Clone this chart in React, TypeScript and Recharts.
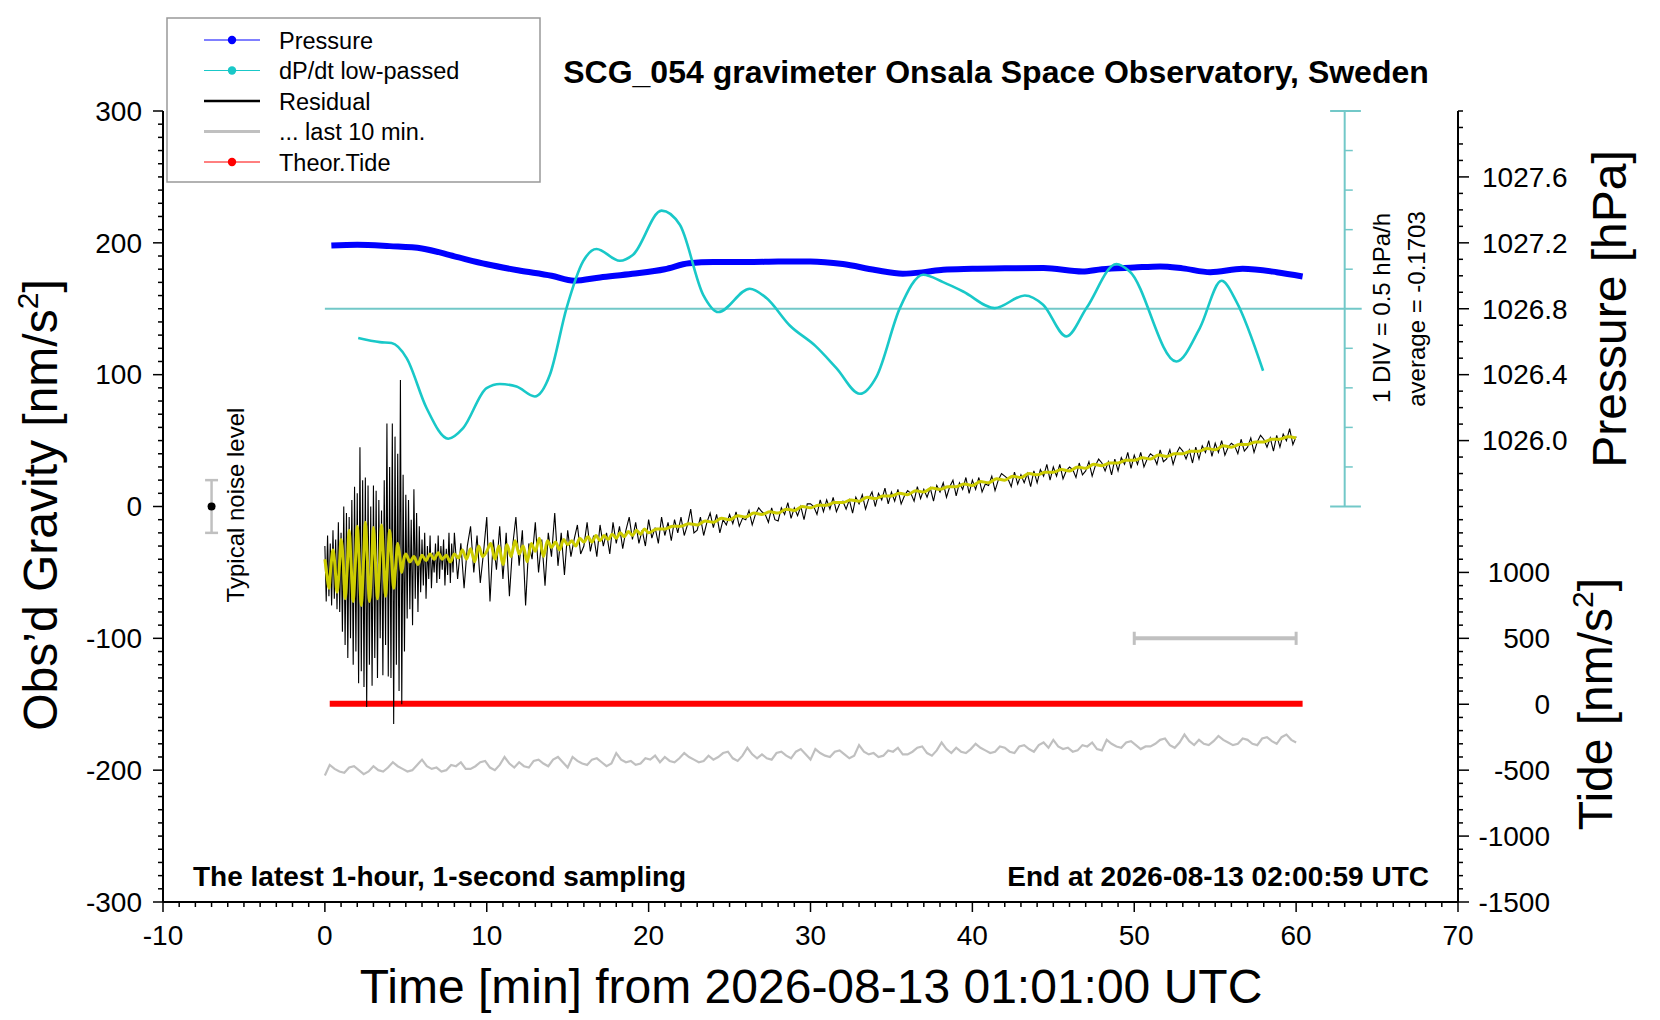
import React from 'react';
import {
  ComposedChart,
  Line,
  XAxis,
  YAxis,
  ReferenceLine,
  ReferenceDot,
} from 'recharts';

const FONT = "'Liberation Sans', Arial, Helvetica, sans-serif";

// ---- axis domains (all share the same vertical extent) ----
const G_DOMAIN = [-300, 300];
const P_DOMAIN = [1023.2, 1028.0];
const TIDE_DOMAIN = [-1500, 4500];
const DPDT_AVERAGE = -0.1703;
const DPDT_DOMAIN = [DPDT_AVERAGE - 7.5, DPDT_AVERAGE + 2.5];

// ---- axis ticks / labels ----
const TIME_TICKS = Array.from({ length: 81 }, (_, i) => i - 10);
const TIME_LABELS = [-10, 0, 10, 20, 30, 40, 50, 60, 70];
const GRAVITY_TICKS = Array.from({ length: 61 }, (_, i) => -300 + i * 10);
const GRAVITY_LABELS = [-300, -200, -100, 0, 100, 200, 300];
const PRESSURE_TICKS = Array.from({ length: 24 }, (_, i) => (10257 + i) / 10);
const PRESSURE_LABELS = [1026.0, 1026.4, 1026.8, 1027.2, 1027.6];
const TIDE_TICKS = Array.from({ length: 31 }, (_, i) => -1500 + i * 100);
const TIDE_LABELS = [-1500, -1000, -500, 0, 500, 1000];

// ---- pressure [hPa] ----
const PRESSURE_TIMES = [0.4, 2, 4, 6, 8, 10, 12, 14, 15.4, 17, 19, 21, 22.5, 24, 26, 28, 30, 32, 34, 35.7, 37, 38.2, 40, 42, 44.4, 46.8, 48, 50, 51.6, 53, 54.7, 56.7, 58.8, 60.4];
const PRESSURE_VALUES = [1027.184, 1027.189, 1027.18, 1027.166, 1027.118, 1027.07, 1027.032, 1027.0, 1026.97, 1026.99, 1027.012, 1027.04, 1027.076, 1027.083, 1027.083, 1027.086, 1027.087, 1027.071, 1027.035, 1027.013, 1027.022, 1027.037, 1027.042, 1027.046, 1027.047, 1027.026, 1027.04, 1027.05, 1027.057, 1027.045, 1027.022, 1027.042, 1027.022, 1026.996];

// ---- dP/dt low-passed [hPa/h] ----
const DPDT_TIMES = [2.06, 3.4, 4.12, 5.05, 6.28, 7.62, 8.54, 9.99, 10.81, 11.84, 12.97, 13.9, 14.93, 15.95, 16.78, 18.22, 19.04, 20.8, 21.93, 23.37, 24.3, 26.25, 27.28, 28.72, 30.3, 31.6, 33.05, 34.08, 35.52, 36.96, 38.19, 39.43, 41.38, 43.24, 44.37, 45.81, 47.05, 48.9, 49.72, 52.6, 54.05, 55.39, 56.31, 57.96];
const DPDT_VALUES = [-0.54, -0.592, -0.604, -0.794, -1.425, -1.813, -1.679, -1.174, -1.122, -1.154, -1.279, -1.005, -0.162, 0.428, 0.585, 0.436, 0.513, 1.07, 0.891, 0.006, -0.212, 0.083, -0.035, -0.382, -0.64, -0.92, -1.245, -1.027, -0.162, 0.26, 0.166, 0.048, -0.162, -0.002, -0.12, -0.52, -0.162, 0.395, 0.301, -0.837, -0.414, 0.183, -0.079, -0.954];

// ---- theoretical tide [nm/s2] ----
const TIDE_TIMES = [0.3, 5, 10, 15, 20, 25, 30, 35, 40, 45, 50, 55, 60.4];
const TIDE_VALUES = [3, 3, 3, 3, 3, 3, 3, 3, 3, 3, 3, 3, 3];

// ---- residual [nm/s2], 0-8 min every 5 s ----
const RESIDUAL_EARLY = [
  -30, -72, -22, -68, -28, -75, -18, -70, -25, -78, -12, -80,
  -20, -95, 0, -105, -5, -115, -8, -100, 5, -120, 15, -110,
  10, -134, 45, -125, 20, -137, 22, -152, 16, -120, 0, -136,
  16, -115, 12, -130, 5, -100, -3, -128, 20, -105, 63, -129,
  30, -130, 63, -165, 53, -120, 40, -140, 96, -150, 24, -110,
  9, -85, 5, -78, -10, -90, 13, -70, -5, -80, -15, -65,
  -25, -60, -20, -70, -30, -55, -22, -62, -35, -50, -28, -58,
  -22, -55, -30, -48, -25, -60, -32, -52, -20, -58, -28, -50,
];
// ---- residual, 8-60 min every 12 s ----
const RESIDUAL_LATE = [
  -20, -55, -28, -62, -30, -15, -50, -22, -58, -35,
  -8, -72, -25, -48, -15, -55, -20, -68, -30, -8,
  -45, -18, -75, -28, -40, -12, -50, -25, -60, -20,
  -38, -5, -45, -20, -52, -18, -38, -25, -14, -36,
  -30, -12, -34, -22, -38, -14, -30, -20, -36, -12,
  -28, -15, -32, -18, -8, -25, -12, -28, -18, -30,
  -10, -24, -16, -28, -8, -22, -12, -26, -10, -20,
  -8, -22, -14, -2, -20, -18, -8, -22, -12, -5,
  -16, -6, -20, -10, -14, -6, -13, -4, -15, -9,
  -10, -3, -14, -6, -1, -4, -6, -12, -1, -10,
  -11, -1, -6, 3, -9, -1, -7, 0, -10, 2,
  2, 0, -6, 5, -4, 5, -2, 7, -4, 2,
  4, -2, 5, -5, 7, 2, 9, -2, 6, 11,
  0, 10, 5, 14, 2, 11, 4, 13, 2, 8,
  12, 10, 4, 15, 6, 13, 7, 14, 4, 16,
  11, 18, 7, 15, 20, 8, 18, 13, 22, 10,
  20, 13, 22, 11, 17, 16, 23, 12, 20, 25,
  23, 21, 15, 26, 17, 24, 18, 25, 15, 27,
  18, 28, 23, 32, 20, 30, 23, 32, 21, 27,
  30, 28, 22, 33, 24, 27, 34, 23, 31, 36,
  33, 27, 34, 24, 36, 27, 37, 32, 41, 29,
  39, 32, 41, 30, 36, 40, 38, 32, 43, 34,
  36, 43, 32, 40, 45, 42, 36, 43, 33, 45,
  36, 46, 41, 50, 38, 48, 41, 50, 39, 45,
  48, 46, 40, 51, 42, 45, 52, 41, 49, 54,
  51, 45, 52, 42, 54, 45, 55, 50, 59, 47,
  53,
];

// ---- smoothed residual (yellow) ----
const SMOOTH_EARLY = [
  -40, -52, -62, -45, -33, -45, -65, -50, -25, -40, -70, -48, -18, -45, -72, -45,
  -15, -42, -75, -45, -12, -40, -72, -48, -16, -42, -70, -44, -14, -40, -68, -42,
  -18, -40, -62, -45, -28, -38, -50, -40, -36,
];
const SMOOTH_MID = [
  -42, -38, -44, -37, -41, -36, -40, -35, -40, -37, -42, -36, -39, -33, -40, -32,
  -42, -30, -38, -34, -28, -40, -30, -44, -29, -38, -26, -36, -30, -42, -28, -34,
  -24, -38, -26, -31, -27, -33, -25, -29, -26, -30, -24, -27, -23, -27, -22, -26,
  -22, -25, -21, -24, -20, -23, -19, -22, -18, -21, -17, -20,
];
const SMOOTH_LATE = [
  -17, -17, -15, -15, -13, -14, -11, -12, -9, -10, -7, -8, -5, -6, -4, -5,
  -2, -3, 0, -1, 1, 1, 3, 3, 5, 4, 7, 6, 8, 8, 10, 9, 12, 11, 14, 13, 15, 15,
  17, 16, 19, 18, 21, 20, 23, 22, 25, 24, 26, 26, 28, 27, 30, 29, 32, 31, 33,
  33, 35, 35, 37, 36, 39, 38, 40, 40, 42, 42, 44, 43, 46, 45, 47, 47, 49, 49,
  51, 51, 53, 52,
];

// ---- last 10 min, stretched over the hour (grey) ----
const LAST10_VALUES = [
  -204, -196, -199, -201, -202, -198, -197, -200, -203, -201,
  -197, -200, -201, -198, -194, -197, -199, -201, -200, -196,
  -192, -197, -199, -198, -201, -200, -196, -197, -194, -199,
  -199, -197, -194, -193, -198, -200, -196, -190, -195, -198,
  -194, -197, -198, -193, -192, -195, -197, -192, -190, -194,
  -198, -190, -193, -195, -196, -192, -191, -194, -197, -195,
  -187, -192, -194, -193, -196, -195, -191, -192, -189, -194,
  -190, -193, -194, -191, -187, -190, -192, -194, -193, -189,
  -192, -190, -187, -186, -191, -193, -189, -183, -188, -191,
  -188, -191, -192, -187, -186, -189, -191, -186, -184, -188,
  -192, -184, -187, -189, -190, -186, -185, -188, -191, -189,
  -181, -186, -188, -187, -190, -189, -185, -186, -183, -188,
  -188, -186, -183, -182, -187, -189, -185, -179, -184, -187,
  -183, -186, -187, -184, -180, -183, -185, -187, -186, -182,
  -183, -186, -187, -182, -181, -184, -186, -181, -179, -183,
  -177, -182, -184, -183, -186, -185, -181, -182, -179, -184,
  -185, -177, -180, -182, -183, -179, -178, -181, -184, -182,
  -182, -180, -177, -176, -181, -183, -179, -173, -178, -181,
  -177, -180, -181, -178, -174, -177, -179, -181, -180, -176,
  -177, -180, -181, -176, -175, -178, -180, -175, -173, -177,
  -179,
];

// ---- build series tables ----
const pressureData = PRESSURE_TIMES.map((t, i) => ({ t, v: PRESSURE_VALUES[i] }));
const dpdtData = DPDT_TIMES.map((t, i) => ({ t, v: DPDT_VALUES[i] }));
const tideData = TIDE_TIMES.map((t, i) => ({ t, v: TIDE_VALUES[i] }));
const residualData = [
  ...RESIDUAL_EARLY.map((v, i) => ({ t: i / 12, v })),
  ...RESIDUAL_LATE.map((v, i) => ({ t: 8 + i * 0.2, v })),
];
const smoothData = [
  ...SMOOTH_EARLY.map((v, i) => ({ t: i * 0.125, v })),
  ...SMOOTH_MID.map((v, i) => ({ t: 5.25 + i * 0.25, v })),
  ...SMOOTH_LATE.map((v, i) => ({ t: 20.5 + i * 0.5, v })),
];
const last10Data = LAST10_VALUES.map((v, i) => ({ t: i * 0.3, v }));

// map a value between two axis domains that share the plot height
const mapDomain = (v: number, from: number[], to: number[]) =>
  to[0] + ((v - from[0]) / (from[1] - from[0])) * (to[1] - to[0]);

// the right-hand frame carries pressure ticks (upper half) and tide ticks (lower half)
const RIGHT_TICKS = [
  ...TIDE_TICKS.map((t) => mapDomain(t, TIDE_DOMAIN, G_DOMAIN)),
  ...PRESSURE_TICKS.map((p) => mapDomain(p, P_DOMAIN, G_DOMAIN)),
];

const LEGEND_ITEMS = [
  { name: 'Pressure', color: '#0000ff', width: 1, dot: true },
  { name: 'dP/dt low-passed', color: '#19c8c8', width: 1, dot: true },
  { name: 'Residual', color: '#000000', width: 2.5, dot: false },
  { name: '... last 10 min.', color: '#c0c0c0', width: 3, dot: false },
  { name: 'Theor.Tide', color: '#ff0000', width: 1, dot: true },
];

const DP_AXIS_X = 63;
const DP_TEAL = '#72c8c8';

const BottomTick = (props: any) => {
  const { x, y, payload } = props;
  const major = TIME_LABELS.includes(payload.value);
  return (
    <g>
      <line x1={x} x2={x} y1={y} y2={y + (major ? 10 : 5)} stroke="#000" strokeWidth={1.5} />
      {major && (
        <text x={x} y={y + 43} textAnchor="middle" fontSize={28} fontFamily={FONT} fill="#000">
          {payload.value}
        </text>
      )}
    </g>
  );
};

const TopTick = (props: any) => {
  const { x, y, payload } = props;
  const major = TIME_LABELS.includes(payload.value);
  return <line x1={x} x2={x} y1={y} y2={y - (major ? 10 : 5)} stroke="#000" strokeWidth={1.5} />;
};

const GravityTick = (props: any) => {
  const { x, y, payload } = props;
  const major = GRAVITY_LABELS.includes(payload.value);
  return (
    <g>
      <line x1={x} x2={x - (major ? 10 : 5)} y1={y} y2={y} stroke="#000" strokeWidth={1.5} />
      {major && (
        <text x={x - 21} y={y} dy="0.35em" textAnchor="end" fontSize={28} fontFamily={FONT} fill="#000">
          {payload.value}
        </text>
      )}
    </g>
  );
};

const RightTick = (props: any) => {
  const { x, y, payload } = props;
  const g = payload.value;
  let label: string | null = null;
  let anchor: 'start' | 'end' = 'start';
  let lx = x + 24;
  if (g > 0.01) {
    const p = mapDomain(g, G_DOMAIN, P_DOMAIN);
    if (PRESSURE_LABELS.some((q) => Math.abs(q - p) < 1e-4)) label = p.toFixed(1);
  } else {
    const t = Math.round(mapDomain(g, G_DOMAIN, TIDE_DOMAIN));
    if (TIDE_LABELS.includes(t)) {
      label = String(t);
      anchor = 'end';
      lx = x + 92;
    }
  }
  return (
    <g>
      <line x1={x} x2={x + (label ? 11 : 5)} y1={y} y2={y} stroke="#000" strokeWidth={1.5} />
      {label && (
        <text x={lx} y={y} dy="0.35em" textAnchor={anchor} fontSize={28} fontFamily={FONT} fill="#000">
          {label}
        </text>
      )}
    </g>
  );
};

const dpTickLevels = [-4, -3, -2, -1, 1, 2, 3, 4];

export default function App() {
  return (
    <div style={{ position: 'absolute', left: 0, top: 0, width: 1660, height: 1020, background: '#fff' }}>
      <ComposedChart width={1660} height={1020} margin={{ top: 111, right: 0, bottom: 0, left: 0 }}>
        <XAxis
          xAxisId="b"
          dataKey="t"
          type="number"
          domain={[-10, 70]}
          ticks={TIME_TICKS}
          interval={0}
          height={118}
          tickSize={0}
          tickMargin={0}
          tickLine={false}
          axisLine={{ stroke: '#000', strokeWidth: 2 }}
          tick={(p: any) => <BottomTick {...p} />}
          allowDataOverflow
        />
        <XAxis
          xAxisId="top"
          orientation="top"
          dataKey="t"
          type="number"
          domain={[-10, 70]}
          ticks={TIME_TICKS}
          interval={0}
          height={0}
          tickSize={0}
          tickMargin={0}
          tickLine={false}
          axisLine={{ stroke: '#000', strokeWidth: 2 }}
          tick={(p: any) => <TopTick {...p} />}
          allowDataOverflow
        />
        <YAxis
          yAxisId="g"
          orientation="left"
          type="number"
          width={163}
          domain={G_DOMAIN}
          ticks={GRAVITY_TICKS}
          interval={0}
          tickSize={0}
          tickMargin={0}
          tickLine={false}
          axisLine={{ stroke: '#000', strokeWidth: 2 }}
          tick={(p: any) => <GravityTick {...p} />}
          allowDataOverflow
        />
        <YAxis
          yAxisId="r"
          orientation="right"
          type="number"
          width={202}
          domain={G_DOMAIN}
          ticks={RIGHT_TICKS}
          interval={0}
          tickSize={0}
          tickMargin={0}
          tickLine={false}
          axisLine={{ stroke: '#000', strokeWidth: 2 }}
          tick={(p: any) => <RightTick {...p} />}
          allowDataOverflow
        />
        <YAxis yAxisId="zp" orientation="right" type="number" hide width={0} domain={P_DOMAIN} allowDataOverflow />
        <YAxis yAxisId="zt" orientation="right" type="number" hide width={0} domain={TIDE_DOMAIN} allowDataOverflow />
        <YAxis yAxisId="zu" orientation="right" type="number" hide width={0} domain={DPDT_DOMAIN} allowDataOverflow />

        {/* dP/dt scale inside the plot */}
        <ReferenceLine
          xAxisId="b"
          yAxisId="zu"
          segment={[{ x: DP_AXIS_X, y: DPDT_AVERAGE - 2.5 }, { x: DP_AXIS_X, y: DPDT_AVERAGE + 2.5 }]}
          stroke={DP_TEAL}
          strokeWidth={2}
        />
        {dpTickLevels.map((k) => (
          <ReferenceLine
            key={`dpt${k}`}
            xAxisId="b"
            yAxisId="zu"
            segment={[{ x: DP_AXIS_X, y: DPDT_AVERAGE + k * 0.5 }, { x: DP_AXIS_X + 0.5, y: DPDT_AVERAGE + k * 0.5 }]}
            stroke={DP_TEAL}
            strokeWidth={1.5}
          />
        ))}
        {[-5, 5].map((k) => (
          <ReferenceLine
            key={`dpc${k}`}
            xAxisId="b"
            yAxisId="zu"
            segment={[{ x: 62.1, y: DPDT_AVERAGE + k * 0.5 }, { x: 64, y: DPDT_AVERAGE + k * 0.5 }]}
            stroke={DP_TEAL}
            strokeWidth={2}
          />
        ))}
        <ReferenceLine
          xAxisId="b"
          yAxisId="zu"
          segment={[{ x: 0, y: DPDT_AVERAGE }, { x: 64.05, y: DPDT_AVERAGE }]}
          stroke={DP_TEAL}
          strokeWidth={1.8}
        />

        {/* typical noise level */}
        <ReferenceLine xAxisId="b" yAxisId="g" segment={[{ x: -7, y: -20 }, { x: -7, y: 20 }]} stroke="#c0c0c0" strokeWidth={2.5} />
        <ReferenceLine xAxisId="b" yAxisId="g" segment={[{ x: -7.4, y: 20 }, { x: -6.6, y: 20 }]} stroke="#c0c0c0" strokeWidth={2.5} />
        <ReferenceLine xAxisId="b" yAxisId="g" segment={[{ x: -7.4, y: -20 }, { x: -6.6, y: -20 }]} stroke="#c0c0c0" strokeWidth={2.5} />
        <ReferenceDot xAxisId="b" yAxisId="g" x={-7} y={0} r={4} fill="#000" stroke="none" />

        {/* 10 min bar */}
        <ReferenceLine xAxisId="b" yAxisId="g" segment={[{ x: 50, y: -100 }, { x: 60, y: -100 }]} stroke="#c0c0c0" strokeWidth={4} />
        <ReferenceLine xAxisId="b" yAxisId="g" segment={[{ x: 50, y: -105 }, { x: 50, y: -95 }]} stroke="#c0c0c0" strokeWidth={3} />
        <ReferenceLine xAxisId="b" yAxisId="g" segment={[{ x: 60, y: -105 }, { x: 60, y: -95 }]} stroke="#c0c0c0" strokeWidth={3} />

        <Line xAxisId="b" yAxisId="g" data={last10Data} dataKey="v" type="linear" stroke="#c0c0c0" strokeWidth={2.2} dot={false} isAnimationActive={false} />
        <Line xAxisId="b" yAxisId="zt" data={tideData} dataKey="v" type="linear" stroke="#ff0000" strokeWidth={6} dot={false} isAnimationActive={false} />
        <Line xAxisId="b" yAxisId="zp" data={pressureData} dataKey="v" type="monotone" stroke="#0000ff" strokeWidth={6} dot={false} isAnimationActive={false} />
        <Line xAxisId="b" yAxisId="zu" data={dpdtData} dataKey="v" type="monotone" stroke="#19c8c8" strokeWidth={2.6} dot={false} isAnimationActive={false} />
        <Line xAxisId="b" yAxisId="g" data={residualData} dataKey="v" type="linear" stroke="#000" strokeWidth={1.1} dot={false} isAnimationActive={false} />
        <Line xAxisId="b" yAxisId="g" data={smoothData} dataKey="v" type="monotone" stroke="#cccc00" strokeWidth={3} dot={false} isAnimationActive={false} />
      </ComposedChart>

      <svg width={1660} height={1020} style={{ position: 'absolute', left: 0, top: 0, pointerEvents: 'none' }} fontFamily={FONT}>
        <text x={996} y={83} textAnchor="middle" fontSize={32} fontWeight="bold">
          SCG_054 gravimeter Onsala Space Observatory, Sweden
        </text>
        <text x={193} y={886} fontSize={28} fontWeight="bold">The latest 1-hour, 1-second sampling</text>
        <text x={1429} y={886} fontSize={28} fontWeight="bold" textAnchor="end">End at 2026-08-13 02:00:59 UTC</text>

        <text x={811} y={1003} textAnchor="middle" fontSize={48}>Time [min] from 2026-08-13 01:01:00 UTC</text>
        <text transform="translate(57,505) rotate(-90)" textAnchor="middle" fontSize={48}>
          Obs’d Gravity [nm/s<tspan dy={-19} fontSize={30}>2</tspan><tspan dy={19}>]</tspan>
        </text>
        <text transform="translate(1626,309) rotate(-90)" textAnchor="middle" fontSize={48}>Pressure [hPa]</text>
        <text transform="translate(1612,704) rotate(-90)" textAnchor="middle" fontSize={48}>
          Tide [nm/s<tspan dy={-19} fontSize={30}>2</tspan><tspan dy={19}>]</tspan>
        </text>

        <text transform="translate(1390,308) rotate(-90)" textAnchor="middle" fontSize={24}>1 DIV = 0.5 hPa/h</text>
        <text transform="translate(1425,309) rotate(-90)" textAnchor="middle" fontSize={24}>average = -0.1703</text>
        <text transform="translate(244,505) rotate(-90)" textAnchor="middle" fontSize={24}>Typical noise level</text>

        <rect x={167} y={18} width={373} height={164} fill="#fff" stroke="#999" strokeWidth={1.5} />
        {LEGEND_ITEMS.map((it, i) => {
          const cy = 40 + i * 30.5;
          return (
            <g key={it.name}>
              <line x1={204} x2={260} y1={cy} y2={cy} stroke={it.color} strokeWidth={it.width} />
              {it.dot && <circle cx={232} cy={cy} r={4.2} fill={it.color} />}
              <text x={279} y={cy + 8.5} fontSize={23.5}>{it.name}</text>
            </g>
          );
        })}
      </svg>
    </div>
  );
}
